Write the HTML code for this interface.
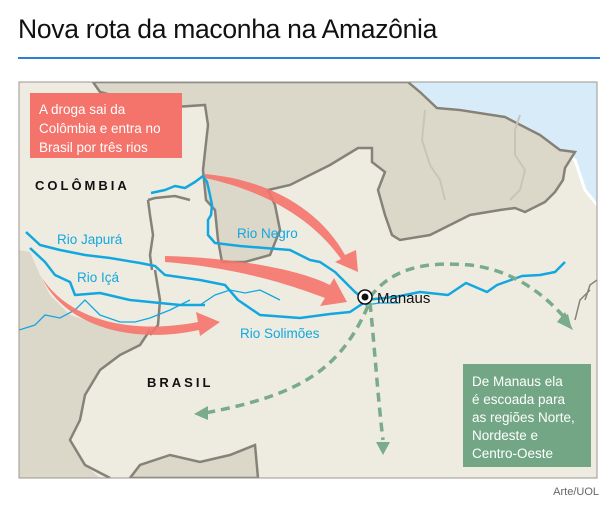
<!DOCTYPE html>
<html><head><meta charset="utf-8"><style>
html,body{margin:0;padding:0;background:#fff;width:615px;height:515px;overflow:hidden;font-family:"Liberation Sans",sans-serif}
.t{position:absolute;left:18px;top:14px;font-size:26.5px;color:#111;letter-spacing:-0.3px}
.line{position:absolute;left:18px;top:57px;width:582px;height:2px;background:#2c7fd6}
svg{position:absolute;left:0;top:0}
.src{position:absolute;right:16px;top:486px;font-size:11px;color:#666}
</style></head><body>
<div class="t">Nova rota da maconha na Amazônia</div>
<div class="line"></div>
<svg width="615" height="515" viewBox="0 0 615 515">
<defs><clipPath id="c"><rect x="19" y="82" width="578" height="396"/></clipPath></defs>
<g clip-path="url(#c)">
<rect x="19" y="82" width="578" height="396" fill="#eeece0"/>
<path d="M408,82 L420,92 437,108 460,110 505,117 540,135 560,150 575,160 585,190 597,205 L600,82Z" fill="#d7ecf8"/>
<path d="M408,82 L420,92 437,108 460,110 505,117 540,135 560,150 575,160 585,190 597,205" fill="none" stroke="#fff" stroke-width="3"/>
<path d="M93,82 L100,92 130,100 160,108 205,105 208,125 203,170 206,200 215,210 218,240 222,262 245,262 270,255 280,230 275,205 268,190 290,185 330,165 358,148 372,148 372,162 385,172 378,190 385,215 392,235 400,240 430,235 470,215 500,210 515,208 525,212 545,202 555,192 563,180 565,168 575,152 560,150 540,135 505,117 460,110 437,108 420,92 408,82Z" fill="#dcd8c9" stroke="#85827a" stroke-width="2.5"/>
<path d="M425,110 L422,140 430,165 440,180 445,200 M520,115 L515,130 515,155 525,170 520,190 510,200" fill="none" stroke="#c8c5b8" stroke-width="2"/>
<path d="M19,250 L30,252 40,275 50,295 70,315 100,325 135,330 145,335 140,345 120,355 100,370 85,395 80,420 70,440 85,465 100,478 L19,478Z" fill="#dcd8c9"/>
<path d="M150,330 L140,345 120,355 100,370 85,395 80,420 70,440 85,465 110,478" fill="none" stroke="#85827a" stroke-width="2.5"/>
<path d="M155,270 L160,300 158,325 150,335" fill="none" stroke="#85827a" stroke-width="2.5"/>
<path d="M130,478 L140,465 170,455 200,462 230,455 255,445 258,478Z" fill="#dcd8c9" stroke="#85827a" stroke-width="2.5"/>
<path d="M148,200 L150,215 153,235 150,255 152,270" fill="none" stroke="#85827a" stroke-width="2.5"/>
<path d="M148,200 L155,198 175,196 190,200" fill="none" stroke="#85827a" stroke-width="2.5"/>
<path d="M585,300 L590,285 597,280 M575,320 L580,300 590,290" fill="none" stroke="#85827a" stroke-width="1.5"/>
<g fill="none" stroke="#13a7e0" stroke-width="2.5" stroke-linejoin="round">
<path d="M151,193 L165,190 175,186 185,188 195,182 203,176 207,182 210,195 212,205 211,215 208,220 208,235 215,243 240,246 265,248 290,250 310,260 320,262 335,272 345,282 355,292 365,300"/>
<path d="M26,232 L40,245 60,250 85,255 110,258 140,263 155,266 165,275 200,280 225,285 238,300 260,315 300,318 330,314 350,312 365,302"/>
<path d="M30,248 L45,262 55,275 70,282 75,295 100,293 130,300 150,302 180,305 205,305"/>
<path d="M365,300 L385,298 400,296 420,292 448,295 466,283 487,292 497,285 522,276 540,275 555,272 565,262"/>
</g>
<g fill="none" stroke="#13a7e0" stroke-width="1.3">
<path d="M200,305 L215,295 230,290 245,293 260,290 270,295 280,300"/>
<path d="M19,330 L35,325 45,315 60,318 75,310 85,300 100,315 120,322 135,322 150,318 170,310 190,300"/>
<path d="M365,305 L380,303 400,303"/>
</g>
<g fill="#f4746b" fill-opacity="0.9">
<path d="M205,174 C270,180 320,210 345,255 L356,250 358,272 335,262 341,259 C315,222 270,192 205,178Z"/>
<path d="M165,256 C240,258 300,270 330,285 L334,278 347,302 320,306 325,298 C290,285 240,268 165,262Z"/>
<path d="M42,278 C70,320 130,335 198,322 L196,312 220,322 200,336 199,330 C130,345 65,325 42,278Z"/>
</g>
<g fill="none" stroke="#7aab8a" stroke-width="3.5" stroke-dasharray="9,6">
<path d="M370,297 C395,265 430,262 470,265 C510,270 540,290 565,318"/>
<path d="M370,303 C374,340 378,400 383,440"/>
<path d="M368,306 C340,370 300,395 205,413"/>
</g>
<g fill="#7aab8a">
<path d="M560,318 L572,330 568,314Z M557,322 L573,330 565,312Z"/>
<path d="M376,442 L390,442 383,455Z"/>
<path d="M208,406 L208,420 194,414Z"/>
</g>
<circle cx="365" cy="297" r="7" fill="#fff" stroke="#111" stroke-width="1.5"/>
<circle cx="365" cy="297" r="3.5" fill="#111"/>
</g>
<rect x="19" y="82" width="578" height="396" fill="none" stroke="#9a978f" stroke-width="1"/>
<rect x="30" y="93" width="152" height="65" fill="#f4736a"/>
<g font-family="Liberation Sans, sans-serif" font-size="13.5" fill="#fff">
<text x="39" y="114">A droga sai da</text>
<text x="39" y="133">Colômbia e entra no</text>
<text x="39" y="152">Brasil por três rios</text>
</g>
<rect x="463" y="364" width="128" height="103" fill="#72a685"/>
<g font-family="Liberation Sans, sans-serif" font-size="13.5" fill="#fff">
<text x="472" y="386">De Manaus ela</text>
<text x="472" y="404">é escoada para</text>
<text x="472" y="422">as regiões Norte,</text>
<text x="472" y="440">Nordeste e</text>
<text x="472" y="458">Centro-Oeste</text>
</g>
<g font-family="Liberation Sans, sans-serif" font-weight="bold" font-size="13" fill="#111" letter-spacing="3">
<text x="35" y="190">COLÔMBIA</text>
<text x="147" y="387">BRASIL</text>
</g>
<text x="377" y="303" font-family="Liberation Sans, sans-serif" font-size="15" fill="#111">Manaus</text>
<g font-family="Liberation Sans, sans-serif" font-size="13.5" fill="#13a7e0">
<text x="237" y="238">Rio Negro</text>
<text x="57" y="244">Rio Japurá</text>
<text x="77" y="282">Rio Içá</text>
<text x="240" y="338">Rio Solimões</text>
</g>
</svg>
<div class="src">Arte/UOL</div>
</body></html>
